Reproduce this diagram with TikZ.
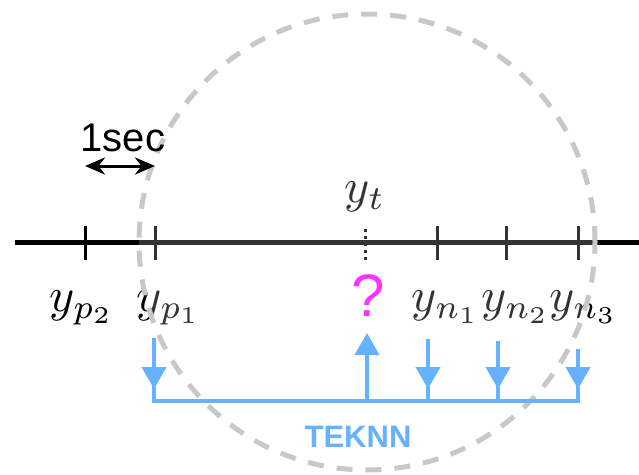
\documentclass[tikz,border=0pt]{standalone}
\usepackage{fontspec}
\newfontfamily\arialfont{Liberation Sans}
\usetikzlibrary{arrows.meta}
\definecolor{teknnblue}{RGB}{102,178,255}
\definecolor{askpink}{RGB}{255,51,255}
\definecolor{ringgray}{RGB}{200,200,200}

\begin{document}
\begin{tikzpicture}[x=1pt,y=-1pt,
  tick/.style={line width=3pt,black},
  lab/.style={anchor=base,inner sep=0pt,scale=4.8},
  leg/.style={line width=4pt,teknnblue},
  feed/.style={leg,-{Triangle[length=22pt,width=24pt]}}]
  \useasboundingbox (0,0) rectangle (639,474);
  % time line
  \coordinate (tl-start) at (15,242);
  \coordinate (tl-end) at (639,242);
  \draw[line width=5pt] (tl-start) -- (tl-end);
  \foreach \x in {85,155,437,506,578}{
    \draw[tick] (\x,226) -- (\x,260);}
  \draw[line width=3pt,dash pattern=on 3pt off 4pt] (365,229) -- (365,261);
  \foreach \nm/\sub/\x in {p2/p_2/82,p1/p_1/169,n1/n_1/446,n2/n_2/516,n3/n_3/584}{
    \node[lab] (l-\nm) at (\x,311) {$y_{\sub}$};}
  \node[lab] (l-t) at (365,202) {$y_t$};
  % window
  \draw[ringgray,line width=5pt,dash pattern=on 16pt off 13pt,fill=white,fill opacity=0.2] (367,242) circle (228pt);
  \node[font=\arialfont\fontsize{40}{44}\selectfont] (sec) at (123,138) {1sec};
  \coordinate (sec-l) at (85,166);
  \coordinate (sec-r) at (155,166);
  \draw[line width=3pt,{Stealth[length=20pt,width=17pt]}-{Stealth[length=20pt,width=17pt]}] (sec-l) -- (sec-r);
  \node[font=\arialfont\fontsize{60}{64}\selectfont,text=askpink,inner sep=0pt] (ask) at (368,296) {?};
  % TEKNN
  \foreach \nm/\x/\top in {p1/154/338,n1/428/339,n2/498/341,n3/578/349}{
    \coordinate (in-\nm) at (\x,\top);
    \coordinate (at-\nm) at (\x,401);
    \draw[leg] (in-\nm) -- (at-\nm);
    \draw[feed,shorten >=12pt] (in-\nm) -- (at-\nm);}
  \coordinate (at-t) at (367,401);
  \coordinate (out-t) at (367,333);
  \draw[feed] (at-t) -- (out-t);
  \draw[leg,line cap=rect] (at-p1) -- (at-n3);
  \node[font=\arialfont\bfseries\fontsize{31}{34}\selectfont,text=teknnblue] (teknn) at (358,437) {TEKNN};
\end{tikzpicture}
\end{document}
